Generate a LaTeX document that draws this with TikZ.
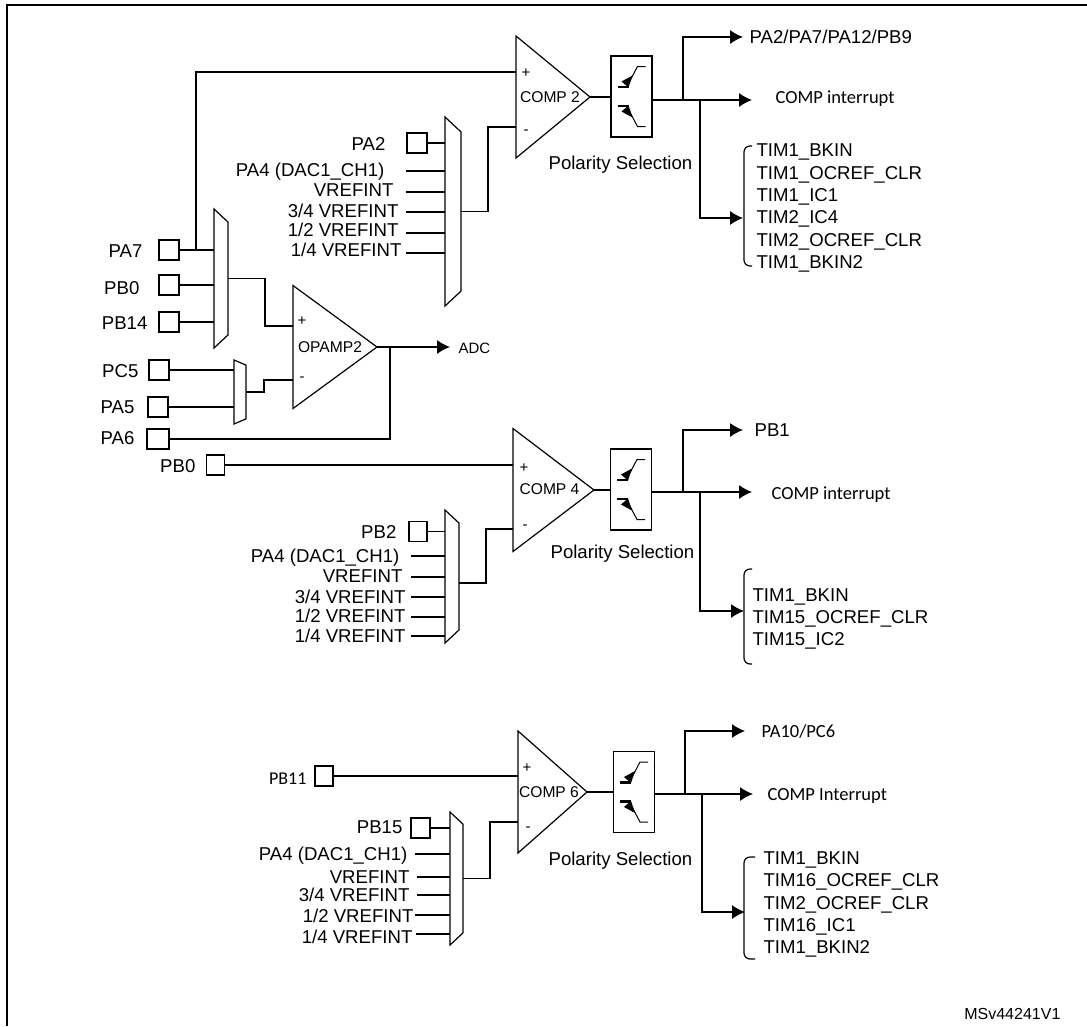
\documentclass[tikz,border=0pt]{standalone}
\usepackage{fontspec}
\setmainfont{Liberation Sans}
\newfontfamily\calfont{Carlito}
\usetikzlibrary{arrows.meta}
\usetikzlibrary{shapes}

\begin{document}
\begin{tikzpicture}[x=1pt,y=-1pt,line width=1.2pt]
\tikzset{CompShape/.style={
  draw,
  isosceles triangle,
  isosceles triangle stretches,
  anchor=apex,
  inner sep=0pt,
  outer sep=0pt,
  minimum width=122pt,
}}
\tikzset{MuxShape/.style={
  draw,
  trapezium,
  trapezium stretches body,
  trapezium left angle=47,
  trapezium right angle=47,
  rotate=-90,
  inner xsep=1pt,
  inner ysep=7pt,
  outer sep=0pt,
}}
\tikzset{PinBox/.style={
  draw,
  rectangle,
  inner sep=0pt,
  outer sep=0pt,
  minimum width=20pt,
  minimum height=20pt,
}}
\tikzset{PolBox/.style={
  draw,
  rectangle,
  line width=1.6pt,
  inner sep=0pt,
  outer sep=0pt,
  minimum width=41pt,
  minimum height=81pt,
}}
\tikzset{SigLabel/.style={anchor=east, inner sep=0pt, text height=13pt, text depth=0pt, font=\fontsize{18.6}{20}\selectfont}}
\tikzset{OutLabel/.style={anchor=west, inner sep=0pt, text height=13pt, text depth=0pt, font=\fontsize{18.6}{20}\selectfont}}
\tikzset{CalLabel/.style={anchor=west, inner sep=0pt, text height=12pt, text depth=0pt, font=\calfont\fontsize{18.5}{20}\selectfont}}
\tikzset{TimLabel/.style={anchor=west, inner sep=0pt, align=left, font=\fontsize{18.6}{22.3}\selectfont}}
\tikzset{CompLabel/.style={inner sep=0pt, font=\fontsize{15.6}{18}\selectfont}}
\tikzset{SignLabel/.style={inner sep=0pt, font=\fontsize{15}{18}\selectfont}}
\tikzset{Signal/.style={-{Latex[length=13pt,width=14pt]}}}
\tikzset{Bracket/.style={rounded corners=6pt}}
\tikzset{polarityicon/.pic={
  \draw[line width=1pt] (14,-30) -- (6,-30) -- (-4,-11);
  \fill (1,-21) -- (-10,-15) -- (-3,-9) -- cycle;
  \draw[line width=2.2pt] (-14,-9.5) -- (-3,-9.5);
  \draw[line width=1pt] (14,30) -- (6,30) -- (-4,11);
  \fill (1,21) -- (-10,15) -- (-3,9) -- cycle;
  \draw[line width=2.2pt] (-14,9.5) -- (-3,9.5);
}}

\useasboundingbox (0,0) rectangle (1087,1026);
\draw[line width=2pt] (7,1026) -- (7,5) -- (1087,5);

% first comparator
\node[CompShape, minimum height=74pt] (comp2) at (590,97) {};
\node[CompLabel] (comp2text) at (550,97) {COMP 2};
\node[SignLabel] (comp2plus) at (526,73) {+};
\node[SignLabel] (comp2minus) at (526,132) {-};
\coordinate (comp2pin) at (516,72);
\coordinate (comp2min) at (516,127);
\node[PolBox] (pol2) at (631.5,96.5) {};
\pic at (pol2) {polarityicon};
\node[OutLabel] (pol2text) at (548,163) {Polarity Selection};
\coordinate (pol2out) at (652,100);
\coordinate (split2a) at (683,100);
\coordinate (split2b) at (700,100);
\coordinate (int2tip) at (752,100);
\coordinate (tim2tip) at (743,218);
\node[OutLabel, inner xsep=6pt] (gpio2) at (743,37) {PA2/PA7/PA12/PB9};
\node[CalLabel] (int2) at (775,97) {COMP interrupt};
\node[TimLabel] (tim2) at (756,208) {TIM1\_BKIN\\TIM1\_OCREF\_CLR\\TIM1\_IC1\\TIM2\_IC4\\TIM2\_OCREF\_CLR\\TIM1\_BKIN2};
\draw[Bracket] (752,146) -- (744,146) -- (744,266) -- (752,266);
\draw (comp2.apex) -- (comp2.apex -| pol2.west);
\draw[Signal] (pol2out) -- (int2tip);
\draw[Signal] (split2a) |- (gpio2.west);
\draw[Signal] (split2b) |- (tim2tip);

% its minus input
\node[MuxShape, minimum width=189pt, inner ysep=8pt] (mux2) at (453,211.5) {};
\node[PinBox] (pa2) at (417,143) {};
\coordinate (dac2) at (406,171);
\coordinate (vref2) at (406,192);
\coordinate (vrefa2) at (406,212);
\coordinate (vrefb2) at (406,233);
\coordinate (vrefc2) at (406,253);
\node[SigLabel] (pa2text) at (386,144) {PA2};
\node[SigLabel] (dac2text) at (385,170) {PA4 (DAC1\_CH1)};
\node[SigLabel] (vref2text) at (394,190) {VREFINT};
\node[SigLabel] (vrefa2text) at (399,211) {3/4 VREFINT};
\node[SigLabel] (vrefb2text) at (399,230) {1/2 VREFINT};
\node[SigLabel] (vrefc2text) at (402,250) {1/4 VREFINT};
\draw (pa2.east) -- (pa2.east -| mux2.south);
\draw (dac2) -- (dac2 -| mux2.south);
\draw (vref2) -- (vref2 -| mux2.south);
\draw (vrefa2) -- (vrefa2 -| mux2.south);
\draw (vrefb2) -- (vrefb2 -| mux2.south);
\draw (vrefc2) -- (vrefc2 -| mux2.south);
\draw (mux2.north) -- ++(27,0) |- (comp2min);

% operational amplifier
\node[CompShape, minimum height=84pt, minimum width=123pt] (opamp) at (377,347) {};
\node[CompLabel] (opamptext) at (330,347) {OPAMP2};
\node[SignLabel] (opampplus) at (302,321) {+};
\node[SignLabel] (opampminus) at (302,379) {-};
\coordinate (opamppin) at (293,326);
\coordinate (opampmin) at (293,380);
\coordinate (opamptap) at (390,347);
\node[OutLabel, inner xsep=8pt, font=\fontsize{15}{18}\selectfont] (adc) at (450,347) {ADC};
\draw[Signal] (opamp.apex) -- (adc.west);

\node[MuxShape, minimum width=139pt] (muxa) at (221,278.5) {};
\node[PinBox] (pa7) at (169,250) {};
\node[PinBox] (pb0) at (169,285) {};
\node[PinBox] (pb14) at (169,322) {};
\node[SigLabel] (pa7text) at (143,251) {PA7};
\node[SigLabel] (pb0text) at (140,288) {PB0};
\node[SigLabel] (pb14text) at (148,323) {PB14};
\coordinate (pa7tap) at (196,250);
\draw (pa7.east) -- (pa7.east -| muxa.south);
\draw (pb0.east) -- (pb0.east -| muxa.south);
\draw (pb14.east) -- (pb14.east -| muxa.south);
\draw (pa7tap) |- (comp2pin);
\draw (muxa.north) -- ++(37,0) |- (opamppin);

\node[MuxShape, minimum width=64pt, inner ysep=6pt, trapezium left angle=67, trapezium right angle=67] (muxb) at (240,392) {};
\node[PinBox] (pc5) at (159,370) {};
\node[PinBox] (pa5) at (158,407) {};
\node[PinBox, minimum width=22pt] (pa6) at (158,439) {};
\node[SigLabel] (pc5text) at (139,371) {PC5};
\node[SigLabel] (pa5text) at (135,407) {PA5};
\node[SigLabel] (pa6text) at (135,438) {PA6};
\draw (pc5.east) -- (pc5.east -| muxb.south);
\draw (pa5.east) -- (pa5.east -| muxb.south);
\draw (muxb.north) -- ++(18,0) |- (opampmin);
\draw (pa6.east) -| (opamptap);

% second comparator
\node[CompShape, minimum height=81pt, minimum width=123pt] (comp4) at (594,490) {};
\node[CompLabel] (comp4text) at (549.5,489) {COMP 4};
\node[SignLabel] (comp4plus) at (524,468) {+};
\node[SignLabel] (comp4minus) at (525,527) {-};
\coordinate (comp4min) at (513,529);
\node[PinBox, minimum width=18pt] (pb0b) at (215.5,465) {};
\node[SigLabel] (pb0btext) at (196,466) {PB0};
\draw (pb0b.east) -- (pb0b.east -| comp4.lower side);
\node[PolBox] (pol4) at (631,489.5) {};
\pic at (pol4) {polarityicon};
\node[OutLabel] (pol4text) at (550,552) {Polarity Selection};
\coordinate (pol4out) at (652,492);
\coordinate (split4a) at (683,492);
\coordinate (split4b) at (700,492);
\coordinate (int4tip) at (752,492);
\coordinate (tim4tip) at (744,611);
\node[OutLabel, inner xsep=11pt] (gpio4) at (743,430) {PB1};
\node[CalLabel] (int4) at (771,493) {COMP interrupt};
\node[TimLabel] (tim4) at (752,619) {TIM1\_BKIN\\TIM15\_OCREF\_CLR\\TIM15\_IC2};
\draw[Bracket] (752,569) -- (744,569) -- (744,664) -- (752,664);
\draw (comp4.apex) -- (comp4.apex -| pol4.west);
\draw[Signal] (pol4out) -- (int4tip);
\draw[Signal] (split4a) |- (gpio4.west);
\draw[Signal] (split4b) |- (tim4tip);

\node[MuxShape, minimum width=133pt] (mux4) at (452,576.5) {};
\node[PinBox, minimum width=18pt] (pb2) at (418,531.5) {};
\coordinate (dac4) at (411,556);
\coordinate (vref4) at (411,577);
\coordinate (vrefa4) at (411,597);
\coordinate (vrefb4) at (411,617);
\coordinate (vrefc4) at (411,636);
\node[SigLabel] (pb2text) at (397,532) {PB2};
\node[SigLabel] (dac4text) at (400,556) {PA4 (DAC1\_CH1)};
\node[SigLabel] (vref4text) at (403,576) {VREFINT};
\node[SigLabel] (vrefa4text) at (406,597) {3/4 VREFINT};
\node[SigLabel] (vrefb4text) at (406,616) {1/2 VREFINT};
\node[SigLabel] (vrefc4text) at (406,636) {1/4 VREFINT};
\draw (pb2.east) -- (pb2.east -| mux4.south);
\draw (dac4) -- (dac4 -| mux4.south);
\draw (vref4) -- (vref4 -| mux4.south);
\draw (vrefa4) -- (vrefa4 -| mux4.south);
\draw (vrefb4) -- (vrefb4 -| mux4.south);
\draw (vrefc4) -- (vrefc4 -| mux4.south);
\draw ([yshift=-6.5pt]mux4.north) -- ++(27,0) |- (comp4min);

% third comparator
\node[CompShape, minimum height=69pt] (comp6) at (587,792) {};
\node[CompLabel] (comp6text) at (549,792) {COMP 6};
\node[SignLabel] (comp6plus) at (527,768) {+};
\node[SignLabel] (comp6minus) at (528,829) {-};
\coordinate (comp6min) at (518,822);
\node[PinBox, minimum width=18pt] (pb11) at (324,776) {};
\node[CalLabel, anchor=east, font=\calfont\fontsize{18}{20}\selectfont] (pb11text) at (307,778) {PB11};
\draw (pb11.east) -- (pb11.east -| comp6.lower side);
\node[PolBox] (pol6) at (634,792) {};
\pic at (pol6) {polarityicon};
\node[OutLabel] (pol6text) at (548,859) {Polarity Selection};
\coordinate (pol6out) at (655,794);
\coordinate (split6a) at (685,794);
\coordinate (split6b) at (702,794);
\coordinate (int6tip) at (753,794);
\coordinate (tim6tip) at (745,912);
\node[CalLabel, inner xsep=16pt] (gpio6) at (745,731) {PA10/PC6};
\node[CalLabel] (int6) at (767,794) {COMP Interrupt};
\node[TimLabel] (tim6) at (763,904.5) {TIM1\_BKIN\\TIM16\_OCREF\_CLR\\TIM2\_OCREF\_CLR\\TIM16\_IC1\\TIM1\_BKIN2};
\draw[Bracket] (755,857) -- (744,857) -- (744,959) -- (755,959);
\draw (comp6.apex) -- (comp6.apex -| pol6.west);
\draw[Signal] (pol6out) -- (int6tip);
\draw[Signal] (split6a) |- (gpio6.west);
\draw[Signal] (split6b) |- (tim6tip);

\node[MuxShape, minimum width=133pt, inner ysep=6.5pt] (mux6) at (456.5,878.5) {};
\node[PinBox, minimum width=19pt] (pb15) at (420.5,828) {};
\coordinate (dac6) at (415,854);
\coordinate (vref6) at (417,877);
\coordinate (vrefa6) at (417,895);
\coordinate (vrefb6) at (415,915);
\coordinate (vrefc6) at (416,934);
\node[SigLabel] (pb15text) at (403,827) {PB15};
\node[SigLabel] (dac6text) at (408,854) {PA4 (DAC1\_CH1)};
\node[SigLabel] (vref6text) at (410,877) {VREFINT};
\node[SigLabel] (vrefa6text) at (410,895) {3/4 VREFINT};
\node[SigLabel] (vrefb6text) at (414,916) {1/2 VREFINT};
\node[SigLabel] (vrefc6text) at (413,937) {1/4 VREFINT};
\draw (pb15.east) -- (pb15.east -| mux6.south);
\draw (dac6) -- (dac6 -| mux6.south);
\draw (vref6) -- (vref6 -| mux6.south);
\draw (vrefa6) -- (vrefa6 -| mux6.south);
\draw (vrefb6) -- (vrefb6 -| mux6.south);
\draw (vrefc6) -- (vrefc6 -| mux6.south);
\draw (mux6.north) -- ++(27,0) |- (comp6min);

\node[SigLabel, font=\fontsize{16}{18}\selectfont] (docref) at (1061,1013) {MSv44241V1};
\end{tikzpicture}
\end{document}
